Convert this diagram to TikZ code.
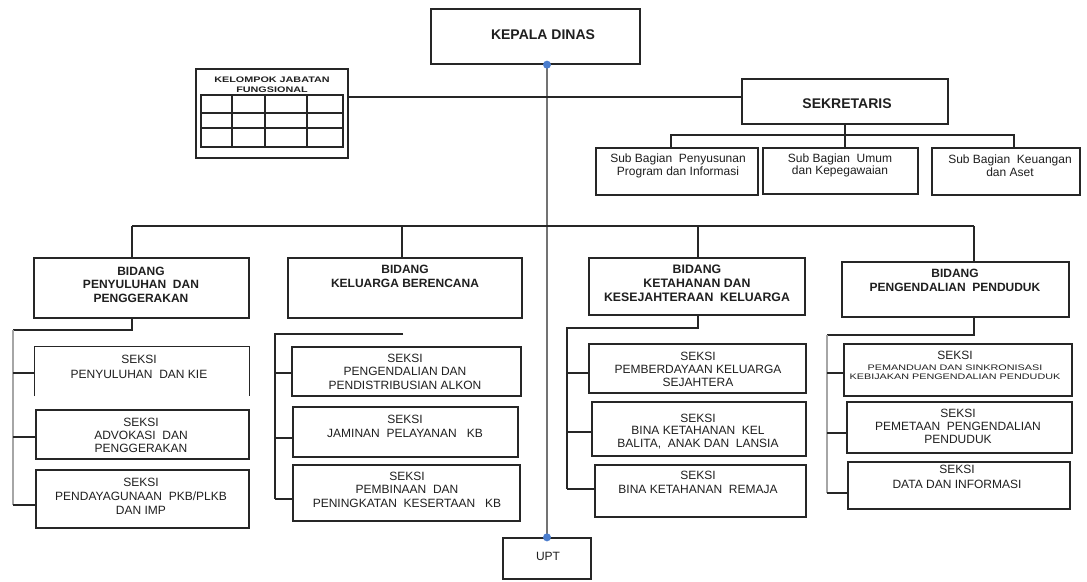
\documentclass[tikz,border=0pt]{standalone}
\usepackage{fontspec}
\setmainfont{Liberation Sans}
\usetikzlibrary{fit}
\definecolor{dotblue}{RGB}{75,125,205}
\newcommand{\mytx}[7][]{\node[anchor=north, inner sep=0pt, align=center, text=black!88, font={\fontsize{#5}{#6}\selectfont#1}] (#2) at (#3,{#4-0.70*#5}) {#7};}
\newcommand{\mybx}[5]{\node[boxst, fit={(#2,#3) (#4,#5)}] (#1) {};}
\begin{document}
\begin{tikzpicture}[x=1pt,y=-1pt,
  boxst/.style={draw=black!85, line width=1.3pt, inner sep=0pt},
  conn/.style={draw=black!85, line width=1.1pt},
  lightconn/.style={draw=black!35, line width=1.1pt},
  busline/.style={draw=black!85, line width=2.8pt},
  gridline/.style={draw=black!85, line width=1.1pt}]
\fill[white] (0,0) rectangle (1087,581);
\useasboundingbox (0,0) rectangle (1087,581);

% boxes
\mybx{kd}{431}{9}{640}{64}
\mybx{kj}{196}{69}{348}{158}
\mybx{sek}{742}{79}{948}{124}
\mybx{sb1}{596}{148}{758}{195}
\mybx{sb2}{763}{148}{918}{194}
\mybx{sb3}{932}{148}{1080}{195}
\mybx{b1}{34}{258}{249}{318}
\mybx{b2}{288}{258}{522}{318}
\mybx{b3}{589}{258}{805}{315}
\mybx{b4}{842}{262}{1069}{317}
\node[inner sep=0pt, fit={(35,347) (249,396)}] (s1a) {};
\draw[boxst] (s1a.south west) -- (s1a.north west) -- (s1a.north east) -- (s1a.south east);
\mybx{s1b}{36}{410}{249}{459}
\mybx{s1c}{36}{470}{249}{528}
\mybx{s2a}{292}{347}{521}{396}
\mybx{s2b}{293}{407}{518}{457}
\mybx{s2c}{293}{465}{520}{521}
\mybx{s3a}{589}{344}{806}{393}
\mybx{s3b}{592}{402}{806}{456}
\mybx{s3c}{595}{465}{806}{517}
\mybx{s4a}{844}{344}{1072}{396}
\mybx{s4b}{847}{402}{1072}{453}
\mybx{s4c}{848}{462}{1070}{509}
\mybx{upt}{503}{538}{591}{579}

% table inside kelompok
\draw[gridline] (201,95) rectangle (343,147);
\draw[gridline] (232,95) -- (232,147) (265,95) -- (265,147) (307,95) -- (307,147)
  (201,113) -- (343,113) (201,128) -- (343,128);

% kepala dinas to UPT
\coordinate (kdp) at (upt.north |- kd.south);
\draw[line width=1.4pt, draw=black!55] (kdp) -- (upt.north);
\fill[dotblue] (kdp) circle[radius=4pt];
\fill[dotblue] (upt.north) circle[radius=4pt];

% kelompok to sekretaris
\coordinate (hl) at (0,97);
\draw[busline] (kj.east |- hl) -- (sek.west |- hl);

% sekretaris to sub bagian
\coordinate (sbus) at (0,135);
\coordinate (sb1c) at ([xshift=-6pt]sb1.north);
\coordinate (sb3c) at ([xshift=8pt]sb3.north);
\draw[conn] (sek.south) -- (sek.south |- sb2.north);
\draw[conn] (sb1c) -- (sb1c |- sbus) -- (sb3c |- sbus) -- (sb3c);

% main bus to bidang
\coordinate (mbus) at (0,226);
\coordinate (b1c) at ([xshift=-9.5pt]b1.north);
\coordinate (b2c) at ([xshift=-3pt]b2.north);
\coordinate (b3c) at ([xshift=1pt]b3.north);
\coordinate (b4c) at ([xshift=18.5pt]b4.north);
\draw[busline] (b1c |- mbus) -- (b4c |- mbus);
\draw[conn] (b1c) -- (b1c |- mbus);
\draw[conn] (b2c) -- (b2c |- mbus);
\draw[conn] (b3c) -- (b3c |- mbus);
\draw[conn] (b4c) -- (b4c |- mbus);

% column 1
\coordinate (c1) at (13,330);
\draw[conn] (b1c |- b1.south) -- (b1c |- c1) -- (c1);
\draw[lightconn] (c1) -- (13,505);
\draw[conn] (13,373) -- (s1a.west |- 13,373);
\draw[conn] (13,437) -- (s1b.west |- 13,437);
\draw[conn] (13,505) -- (s1c.west |- 13,505);

% column 2
\coordinate (c2) at (275,334);
\coordinate (c2e) at (403,334);
\draw[conn] (c2e) -- (c2) -- (275,499);
\draw[conn] (275,373) -- (s2a.west |- 275,373);
\draw[conn] (275,438) -- (s2b.west |- 275,438);
\draw[conn] (275,499) -- (s2c.west |- 275,499);

% column 3
\coordinate (c3) at (567,328);
\draw[conn] (b3c |- b3.south) -- (b3c |- c3) -- (c3) -- (567,489);
\draw[conn] (567,373) -- (s3a.west |- 567,373);
\draw[conn] (567,432) -- (s3b.west |- 567,432);
\draw[conn] (567,489) -- (s3c.west |- 567,489);

% column 4
\coordinate (c4) at (827,335);
\draw[conn] (b4c |- b4.south) -- (b4c |- c4) -- (c4);
\draw[lightconn] (c4) -- (827,493);
\draw[conn] (827,373) -- (s4a.west |- 827,373);
\draw[conn] (827,433) -- (s4b.west |- 827,433);
\draw[conn] (827,493) -- (s4c.west |- 827,493);

% texts
\mytx[\bfseries]{kdt}{543}{39}{14}{16}{KEPALA DINAS}
\mytx[\bfseries]{kjt}{272}{82}{8}{10}{\scalebox{1.35}[1]{KELOMPOK JABATAN}\\\scalebox{1.35}[1]{FUNGSIONAL}}
\mytx[\bfseries]{sekt}{847}{108}{14}{16}{SEKRETARIS}
\mytx{sb1t}{678}{162}{12}{13}{Sub Bagian~ Penyusunan\\Program dan Informasi}
\mytx{sb2t}{840}{162}{12}{12.5}{Sub Bagian~ Umum\\dan Kepegawaian}
\mytx{sb3t}{1010}{163}{12}{13}{Sub Bagian~ Keuangan\\dan Aset}

\mytx[\bfseries]{b1t}{141}{275}{12}{13.5}{BIDANG\\PENYULUHAN~ DAN\\PENGGERAKAN}
\mytx[\bfseries]{b2t}{405}{273}{12}{14}{BIDANG\\KELUARGA BERENCANA}
\mytx[\bfseries]{b3t}{697}{273}{12.3}{14}{BIDANG\\KETAHANAN DAN\\KESEJAHTERAAN~ KELUARGA}
\mytx[\bfseries]{b4t}{955}{277}{12}{14}{BIDANG\\PENGENDALIAN~ PENDUDUK}

\mytx{s1at}{139}{363}{12}{15}{SEKSI\\PENYULUHAN~ DAN KIE}
\mytx{s1bt}{141}{426}{12}{13}{SEKSI\\ADVOKASI~ DAN\\PENGGERAKAN}
\mytx{s1ct}{141}{486}{12}{14}{SEKSI\\PENDAYAGUNAAN~ PKB/PLKB\\DAN IMP}
\mytx{s2at}{405}{362}{12}{13.5}{SEKSI\\PENGENDALIAN DAN\\PENDISTRIBUSIAN ALKON}
\mytx{s2bt}{405}{423}{12}{14}{SEKSI\\JAMINAN~ PELAYANAN~~ KB}
\mytx{s2ct}{407}{480}{12}{13.5}{SEKSI\\PEMBINAAN~ DAN\\PENINGKATAN~ KESERTAAN~~ KB}
\mytx{s3at}{698}{360}{12}{13}{SEKSI\\PEMBERDAYAAN KELUARGA\\SEJAHTERA}
\mytx{s3bt}{698}{422}{12}{12.5}{SEKSI\\BINA KETAHANAN~ KEL\\BALITA,~ ANAK DAN~ LANSIA}
\mytx{s3ct}{698}{479}{12}{14}{SEKSI\\BINA KETAHANAN~ REMAJA}
\mytx{s4at}{955}{359}{12}{13}{SEKSI}
\mytx{s4at2}{955}{370}{8}{9}{\scalebox{1.35}[1]{PEMANDUAN DAN SINKRONISASI}\\\scalebox{1.35}[1]{KEBIJAKAN PENGENDALIAN PENDUDUK}}
\mytx{s4bt}{958}{417}{12}{13}{SEKSI\\PEMETAAN~ PENGENDALIAN\\PENDUDUK}
\mytx{s4ct}{957}{473}{12}{15}{SEKSI\\DATA DAN INFORMASI}
\mytx{uptt}{548}{560}{12}{13}{UPT}
\end{tikzpicture}
\end{document}
